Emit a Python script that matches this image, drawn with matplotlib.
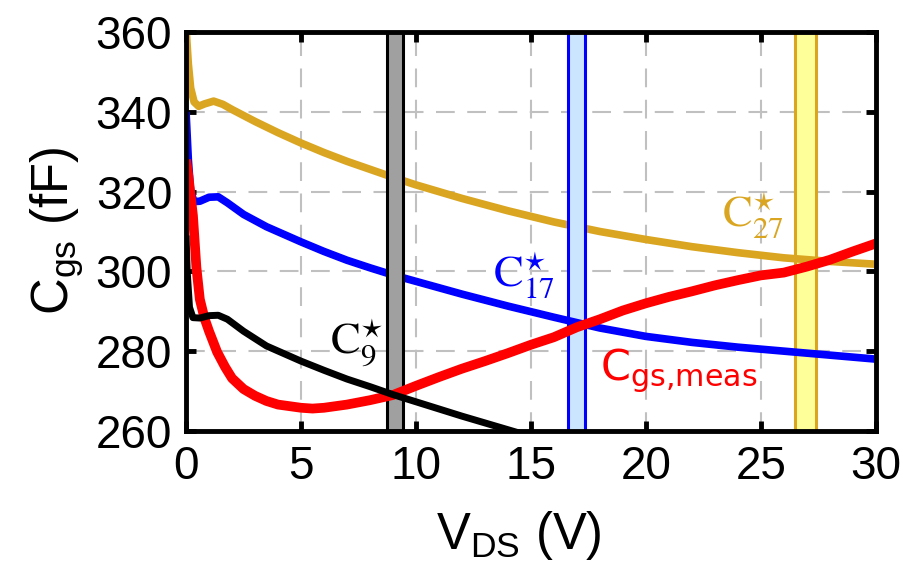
import matplotlib
matplotlib.use("Agg")
import matplotlib.pyplot as plt

# --- data ---
# C9* (black)
v_c9 = [0, 0.05, 0.15, 0.3, 0.6, 1.0, 1.4, 1.8, 2.5, 3.5, 5, 6, 7, 8, 9, 10, 11, 12, 13, 14, 15]
c_c9 = [309, 300, 291, 288.4, 288.3, 288.9, 289, 288, 285, 281.3, 277.5, 275.2, 273, 271.1,
        269.1, 267.3, 265.5, 263.7, 262, 260.3, 258.6]

# C17* (blue)
v_c17 = [0, 0.1, 0.2, 0.35, 0.6, 1.0, 1.4, 1.8, 2.5, 3.5, 5, 6, 7, 8, 9, 10, 12, 14, 16, 18,
         20, 22, 24, 26, 28, 30]
c_c17 = [340, 328, 320, 317.5, 317.6, 318.6, 318.7, 317.2, 314.3, 311.2, 307.4, 305, 302.8,
         300.9, 299.1, 297.5, 294.3, 291.3, 288.5, 285.8, 283.7, 282.2, 281, 280, 279, 278]

# C27* (gold)
v_c27 = [0, 0.1, 0.2, 0.35, 0.55, 0.8, 1.2, 1.6, 2.0, 3, 4, 5, 6, 7, 8, 9, 10, 12, 14, 16, 18,
         20, 22, 24, 26, 28, 30]
c_c27 = [361, 352, 346, 342.5, 341.4, 342, 342.7, 341.9, 340.6, 337.6, 334.8, 332.2, 329.8,
         327.6, 325.6, 323.6, 321.7, 318.3, 315.2, 312.4, 310, 308, 306.2, 304.7, 303.4,
         302.5, 301.8]

# Cgs,meas (red)
v_meas = [0, 0.1, 0.2, 0.3, 0.45, 0.6, 0.8, 1.0, 1.35, 1.7, 2.0, 2.5, 3.0, 3.5, 4.0, 5.0, 5.5,
          6.0, 7, 8, 9, 10, 11, 12, 13, 14, 15, 16, 17, 18, 19, 20, 21, 22, 23, 24, 25, 26,
          27, 28, 29, 30]
c_meas = [328, 324, 319, 314, 301, 293, 288.3, 285, 279.8, 276, 273.2, 270.5, 268.8, 267.5,
          266.6, 265.8, 265.6, 265.8, 266.6, 267.7, 269, 271.3, 273.5, 275.6, 277.5, 279.5,
          281.6, 283.5, 286, 288, 290.2, 292, 293.6, 295, 296.5, 297.8, 299, 299.7, 301.2,
          302.9, 305, 307]

# vertical bands (V)
band_lo = [8.75, 16.6, 26.5]
band_hi = [9.45, 17.35, 27.4]
band_face = ['#a0a0a0', '#cce5ff', '#ffff99']
band_edge = ['black', 'blue', '#daa520']
band_z = [3.5, 2.5, 1.5]

xticks = [0, 5, 10, 15, 20, 25, 30]
yticks = [260, 280, 300, 320, 340, 360]

gold = '#daa520'

plt.rcParams['font.family'] = ['Liberation Sans', 'DejaVu Sans']
plt.rcParams['mathtext.fontset'] = 'custom'
plt.rcParams['mathtext.rm'] = 'Liberation Sans'
plt.rcParams['mathtext.it'] = 'Liberation Sans:italic'

fig = plt.figure(figsize=(9.04, 5.64), dpi=100)
ax = fig.add_axes([0.2058, 0.236, 0.763, 0.707])

# bands
for lo, hi, fc, ec, z in zip(band_lo, band_hi, band_face, band_edge, band_z):
    ax.axvspan(lo, hi, facecolor=fc, edgecolor=ec, linewidth=2.2, zorder=z)

# curves
ax.plot(v_c27, c_c27, color=gold, lw=5.5, zorder=2, solid_capstyle='butt')
ax.plot(v_c17, c_c17, color='blue', lw=5.5, zorder=3, solid_capstyle='butt')
ax.plot(v_meas, c_meas, color='red', lw=7, zorder=4, solid_capstyle='butt')
ax.plot(v_c9, c_c9, color='black', lw=5, zorder=4.5, solid_capstyle='butt')

# labels on curves
ax.text(6.26, 279.0, r'$\mathrm{C}_{9}^{\star}$', color='black', fontsize=32,
        math_fontfamily='stix', ha='left', va='baseline', zorder=6)
ax.text(13.35, 296.1, r'$\mathrm{C}_{17}^{\star}$', color='blue', fontsize=32,
        math_fontfamily='stix', ha='left', va='baseline', zorder=6)
ax.text(23.3, 311.1, r'$\mathrm{C}_{27}^{\star}$', color=gold, fontsize=32,
        math_fontfamily='stix', ha='left', va='baseline', zorder=6)
ax.text(18.0, 272.8, r'C$_{\mathrm{gs{,}meas}}$', color='red', fontsize=31,
        family='DejaVu Sans', math_fontfamily='dejavusans', ha='left', va='baseline', zorder=6)

ax.set_xlim(0, 30)
ax.set_ylim(260, 360)
ax.set_xticks(xticks)
ax.set_yticks(yticks)
ax.tick_params(direction='in', length=7, width=3.5, labelsize=33, top=True, right=True, pad=10)
for sp in ax.spines.values():
    sp.set_linewidth(3.5)
    sp.set_zorder(10)

ax.grid(True, color='#c0c0c0', linestyle=(0, (9, 6)), linewidth=1.5, zorder=0)
ax.set_axisbelow(True)

ax.set_xlabel(r'V$_{\mathrm{DS}}$ (V)', fontsize=36.5, labelpad=2)
ax.xaxis.set_label_coords(0.482, -0.195)
ax.set_ylabel(r'C$_{\mathrm{gs}}$ (fF)', fontsize=36.5, labelpad=8)

fig.savefig('out.png', dpi=100)
